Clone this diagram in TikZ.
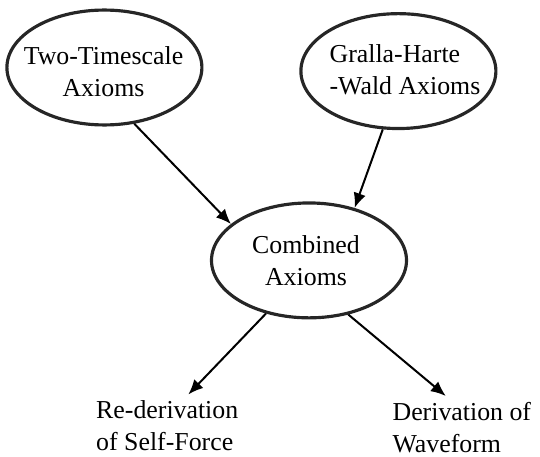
\documentclass[tikz,border=0pt]{standalone}
\usepackage{fontspec}
\setmainfont{Liberation Serif}
\usepackage{tikz}
\usetikzlibrary{shapes.geometric,arrows.meta}

\newcommand{\diagfont}{\fontsize{24.5}{30.3}\selectfont}
\tikzset{
	axiom/.style={ellipse, draw=black!85, line width=3pt, minimum width=6.5cm, minimum height=3.83cm},
	axtext/.style={font=\diagfont, inner sep=0pt},
	result/.style={font=\diagfont, align=left, inner sep=0.2cm, anchor=north west},
	flow/.style={-{Latex[length=0.5cm,width=0.42cm]}, line width=1.9pt}
}

\begin{document}
\begin{tikzpicture}
	\useasboundingbox (0,0) rectangle (18,-15.233);

	%ellipses
	\node[axiom] (tts) at (3.48,-2.25) {};
	\node[axiom] (ghw) at (13.28,-2.37) {};
	\node[axiom] (comb) at (10.3,-8.68) {};

	%labels
	\node[axtext, align=center] (tts-text) at (3.45,-2.38) {Two-Timescale\\Axioms};
	\node[axtext, align=left] (ghw-text) at (13.5,-2.32) {Gralla-Harte\\-Wald Axioms};
	\node[axtext, align=center] (comb-text) at (10.2,-8.68) {Combined\\Axioms};
	\node[result] (rederiv) at (3.0,-13.15) {Re-derivation\\of Self-Force};
	\node[result] (deriv) at (12.88,-13.2) {Derivation of\\Waveform};

	%arrows
	\draw[flow] (tts.-62) -- (comb.155);
	\draw[flow] (ghw.-105) -- (comb.49);
	\draw[flow] (comb.-129) -- (rederiv.56);
	\draw[flow] (comb.-54) -- (deriv.117);
\end{tikzpicture}
\end{document}
